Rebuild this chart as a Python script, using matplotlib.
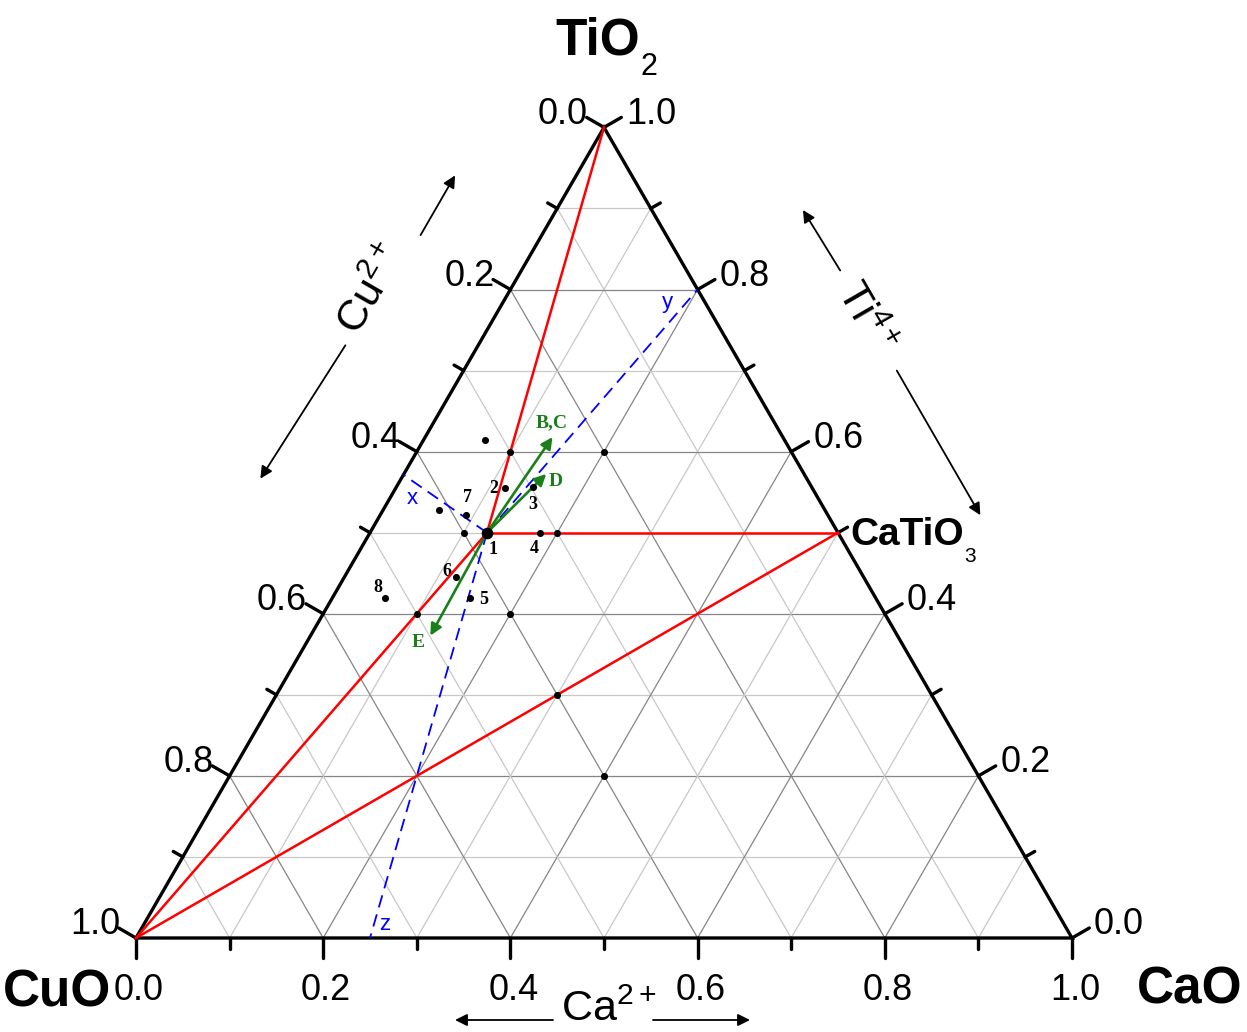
import numpy as np
import matplotlib
matplotlib.use("Agg")
import matplotlib.pyplot as plt

plt.rcParams["font.family"] = ["Liberation Sans", "DejaVu Sans"]
plt.rcParams["mathtext.fontset"] = "custom"
plt.rcParams["mathtext.rm"] = "Liberation Sans"
plt.rcParams["mathtext.it"] = "Liberation Sans:italic"
plt.rcParams["mathtext.bf"] = "Liberation Sans:bold"

# ---- compositions as (Ca, Ti) fractions; Cu = 1 - Ca - Ti ----
tick_values = [0.0, 0.2, 0.4, 0.6, 0.8, 1.0]
tick_labels = ["0.0", "0.2", "0.4", "0.6", "0.8", "1.0"]

sample_ids = ["1", "2", "3", "4", "5", "6", "7", "8"]
sample_ca = [0.125, 0.117, 0.146, 0.182, 0.147, 0.119, 0.092, 0.057]
sample_ti = [0.500, 0.555, 0.556, 0.500, 0.419, 0.445, 0.522, 0.419]

extra_ca = [0.066, 0.060, 0.100, 0.200, 0.100, 0.200, 0.100, 0.200, 0.300, 0.400]
extra_ti = [0.614, 0.528, 0.600, 0.600, 0.500, 0.500, 0.400, 0.400, 0.300, 0.200]

perovskite_ca, perovskite_ti = 0.5, 0.5   # CaTiO3

shift_names = ["B,C", "D", "E"]
shift_ca = [0.136, 0.152, 0.128]
shift_ti = [0.618, 0.5725, 0.373]

SQ = np.sqrt(3) / 2
PX = 1 / 936.0          # one output pixel in data units

RED = "#ff0000"
BLUE = "#0000ff"
GREEN = "#1a7f1a"


def tern(ca, ti):
    return float(ca) + float(ti) / 2, float(ti) * SQ


fig = plt.figure(figsize=(12.47, 10.32), dpi=100)
ax = fig.add_axes([0, 0, 1, 1])
ax.set_xlim(-136 * PX, (1247 - 136) * PX)
ax.set_ylim(-94 * PX, (1032 - 94) * PX)
ax.axis("off")

V_cu = np.array(tern(0, 0))
V_ca = np.array(tern(1, 0))
V_ti = np.array(tern(0, 1))

# ---- grid ----
for k in range(1, 10):
    v = k / 10
    col = "#858585" if k % 2 == 0 else "#c8c8c8"
    for a, b in [((0, v), (1 - v, v)),          # constant Ti
                 ((v, 0), (v, 1 - v)),          # constant Ca
                 ((1 - v, 0), (0, 1 - v))]:     # constant Cu
        p, q = tern(*a), tern(*b)
        ax.plot([p[0], q[0]], [p[1], q[1]], color=col, lw=0.9, zorder=1)

# ---- frame ----
tri = np.array([V_cu, V_ca, V_ti, V_cu])
ax.plot(tri[:, 0], tri[:, 1], color="black", lw=2.4, zorder=3,
        solid_joinstyle="miter")

n_left = np.array([-SQ, 0.5])
n_right = np.array([SQ, 0.5])
n_bottom = np.array([0.0, -1.0])

for k in range(11):
    v = k / 10
    L = (20 if k % 2 == 0 else 11) * PX
    for base, n in [(tern(v, 0), n_bottom),
                    (tern(0, 1 - v), n_left),
                    (tern(1 - v, v), n_right)]:
        b = np.array(base)
        e = b + n * L
        ax.plot([b[0], e[0]], [b[1], e[1]], color="black", lw=2.4,
                solid_capstyle="round", zorder=3)

tick_font = dict(fontsize=26, color="black", va="center")
for v, lab in zip(tick_values, tick_labels):
    ax.annotate(lab, tern(v, 0), xytext=(3, -52), textcoords="offset pixels",
                ha="center", **tick_font)
    ax.annotate(lab, tern(0, 1 - v), xytext=(-16, 13), textcoords="offset pixels",
                ha="right", **tick_font)
    ax.annotate(lab, tern(1 - v, v), xytext=(22, 13), textcoords="offset pixels",
                ha="left", **tick_font)

# ---- tie lines ----
P1 = tern(sample_ca[0], sample_ti[0])
PV = tern(perovskite_ca, perovskite_ti)
for a, b in [(V_ti, P1), (V_cu, P1), (P1, PV), (V_cu, PV)]:
    ax.plot([a[0], b[0]], [a[1], b[1]], color=RED, lw=1.8, zorder=4)

# ---- cevians through sample 1 extended to the opposite sides ----
p_ca, p_ti = sample_ca[0], sample_ti[0]
p_cu = 1 - p_ca - p_ti
x_end = tern(0, p_ti / (p_ti + p_cu))
y_end = tern(p_ca / (p_ca + p_ti), p_ti / (p_ca + p_ti))
z_end = tern(p_ca / (p_ca + p_cu), 0)
for end, name, off in [(x_end, "x", (9, -24)), (y_end, "y", (-30, -13)),
                       (z_end, "z", (15, 13))]:
    ax.plot([P1[0], end[0]], [P1[1], end[1]], color=BLUE, lw=1.3,
            linestyle=(0, (7, 4)), zorder=4)
    ax.annotate(name, end, xytext=off, textcoords="offset pixels",
                ha="center", va="center", fontsize=16, color=BLUE)

# ---- composition shifts ----
for name, ca, ti, off in zip(shift_names, shift_ca, shift_ti,
                             [(-1, 14), (10, -8), (-12, -7)]):
    tip = tern(ca, ti)
    ax.annotate("", xy=tip, xytext=P1,
                arrowprops=dict(arrowstyle="-|>", color=GREEN, lw=1.9,
                                mutation_scale=17, shrinkA=0, shrinkB=0),
                zorder=5)
    ax.annotate(name, tip, xytext=off, textcoords="offset pixels",
                ha="center", va="center", fontsize=14, color=GREEN,
                family="Liberation Serif", weight="bold")

# ---- points ----
ex = [tern(c, t) for c, t in zip(extra_ca, extra_ti)]
ax.scatter([p[0] for p in ex], [p[1] for p in ex], s=26, color="black",
           zorder=6, linewidths=0)
sp = [tern(c, t) for c, t in zip(sample_ca, sample_ti)]
ax.scatter([p[0] for p in sp[1:]], [p[1] for p in sp[1:]], s=26,
           color="black", zorder=6, linewidths=0)
ax.scatter([sp[0][0]], [sp[0][1]], s=70, color="black", zorder=6, linewidths=0)

id_offsets = [(6, -17), (-12, 0), (0, -17), (-6, -16), (14, -1), (-9, 6),
              (1, 17), (-8, 11)]
for sid, p, off in zip(sample_ids, sp, id_offsets):
    ax.annotate(sid, p, xytext=off, textcoords="offset pixels", ha="center",
                va="center", fontsize=13, weight="bold",
                family="Liberation Serif", color="black")

# ---- component labels ----
t_ti = ax.annotate("TiO", V_ti, xytext=(36, 73), textcoords="offset pixels",
                   ha="right", va="baseline", fontsize=37, weight="bold")
ax.annotate("2", xy=(1, 0), xycoords=t_ti, xytext=(1, -2),
            textcoords="offset pixels", ha="left", va="center", fontsize=22)

t_pv = ax.annotate("CaTiO", PV, xytext=(12, -12), textcoords="offset pixels",
                   ha="left", va="baseline", fontsize=28, weight="bold")
ax.annotate("3", xy=(1, 0), xycoords=t_pv, xytext=(1, -4),
            textcoords="offset pixels", ha="left", va="center", fontsize=15)

ax.annotate("CuO", V_cu, xytext=(-79, -55), textcoords="offset pixels",
            ha="center", va="center", fontsize=37, weight="bold")
ax.annotate("CaO", V_ca, xytext=(118, -52), textcoords="offset pixels",
            ha="center", va="center", fontsize=37, weight="bold")


# ---- axis titles with direction arrows ----
def along(start, direction, dist_px, normal, off_px):
    return (np.asarray(start) + np.asarray(direction) * dist_px * PX
            + np.asarray(normal) * off_px * PX)


d_left = np.array([-0.5, -SQ])    # apex -> CuO
d_right = np.array([0.5, -SQ])    # apex -> CaO
d_bottom = np.array([1.0, 0.0])   # CuO -> CaO

arrow_kw = dict(arrowstyle="-|>", color="black", lw=1.3, mutation_scale=18,
                shrinkA=0, shrinkB=0)

ax.text(*along(V_ti, d_left, 257, n_left, 119), "Cu$^{2+}$", rotation=60,
        ha="center", va="center", fontsize=31)
for tail, head in [((185, 105), (116, 105)), ((318, 115), (476, 122))]:
    ax.annotate("", xy=along(V_ti, d_left, head[0], n_left, head[1]),
                xytext=along(V_ti, d_left, tail[0], n_left, tail[1]),
                arrowprops=arrow_kw)

ax.text(*along(V_ti, d_right, 295, n_right, 130), "Ti$^{4+}$", rotation=-60,
        ha="center", va="center", fontsize=31)
for tail, head in [((242, 133), (171, 131)), ((357, 132), (524, 132))]:
    ax.annotate("", xy=along(V_ti, d_right, head[0], n_right, head[1]),
                xytext=along(V_ti, d_right, tail[0], n_right, tail[1]),
                arrowprops=arrow_kw)

ax.text(*along(V_cu, d_bottom, 473, n_bottom, 72), "Ca$^{2+}$",
        ha="center", va="center", fontsize=31)
for tail, head in [((417, 82), (319, 82)), ((517, 82), (614, 82))]:
    ax.annotate("", xy=along(V_cu, d_bottom, head[0], n_bottom, head[1]),
                xytext=along(V_cu, d_bottom, tail[0], n_bottom, tail[1]),
                arrowprops=arrow_kw)

fig.savefig("out.png", dpi=100)
